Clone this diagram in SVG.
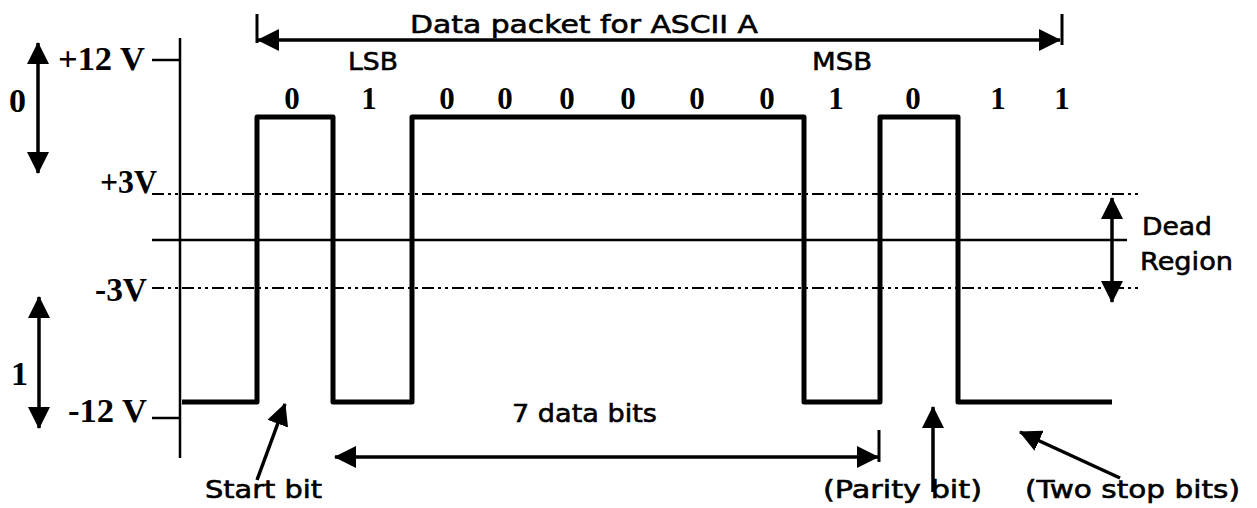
<svg xmlns="http://www.w3.org/2000/svg" width="1257" height="508" viewBox="0 0 1257 508">
<defs>
<marker id="ah" viewBox="0 0 22 22" refX="21" refY="11" markerWidth="22" markerHeight="22" markerUnits="userSpaceOnUse" orient="auto-start-reverse">
<path d="M0,0 L22,11 L0,22 Z" fill="#000"/>
</marker>
</defs>
<style>
.serif{font-family:"Liberation Serif","Times New Roman",serif;font-weight:bold;font-size:34px;fill:#000}
.bit{font-family:"Liberation Serif","Times New Roman",serif;font-weight:bold;font-size:31px;fill:#000}
.sans{font-family:"DejaVu Sans",Verdana,sans-serif;font-size:25px;fill:#000;stroke:#000;stroke-width:0.6}
.dd{stroke:#000;stroke-width:2.2;stroke-dasharray:12 4 3 4 3 4;fill:none}
.ln{stroke:#000;fill:none}
.arr{stroke:#000;stroke-width:3.5;fill:none}
</style>
<rect width="1257" height="508" fill="#fff"/>

<g id="axis">
<line class="ln" x1="180" y1="38" x2="180" y2="458" stroke-width="2.5"/>
<line class="ln" x1="152" y1="60" x2="180" y2="60" stroke-width="2.5"/>
<line class="ln" x1="152" y1="418" x2="180" y2="418" stroke-width="2.5"/>
<text class="serif" x="58" y="70" textLength="87" lengthAdjust="spacingAndGlyphs">+12 V</text>
<text class="serif" x="68" y="422" textLength="79" lengthAdjust="spacingAndGlyphs">-12 V</text>
<text class="serif" x="100" y="193" textLength="57" lengthAdjust="spacingAndGlyphs">+3V</text>
<text class="serif" x="95" y="301" textLength="52" lengthAdjust="spacingAndGlyphs">-3V</text>
</g>

<g id="levels">
<line class="dd" x1="152" y1="194" x2="1140" y2="194"/>
<line class="dd" x1="152" y1="288" x2="1140" y2="288"/>
<line class="ln" x1="152" y1="240" x2="1127" y2="240" stroke-width="2.5"/>
</g>

<g id="waveform">
<polyline class="ln" stroke-width="5" stroke-linejoin="round" points="182,402 257,402 257,117 333,117 333,402 412,402 412,117 804,117 804,402 880,402 880,117 958,117 958,402 1112,402"/>
</g>

<g id="bits">
<text class="bit" x="292" y="109" text-anchor="middle">0</text>
<text class="bit" x="369" y="109" text-anchor="middle">1</text>
<text class="bit" x="447" y="109" text-anchor="middle">0</text>
<text class="bit" x="505" y="109" text-anchor="middle">0</text>
<text class="bit" x="567" y="109" text-anchor="middle">0</text>
<text class="bit" x="628" y="109" text-anchor="middle">0</text>
<text class="bit" x="697" y="109" text-anchor="middle">0</text>
<text class="bit" x="767" y="109" text-anchor="middle">0</text>
<text class="bit" x="836" y="109" text-anchor="middle">1</text>
<text class="bit" x="913" y="109" text-anchor="middle">0</text>
<text class="bit" x="998" y="109" text-anchor="middle">1</text>
<text class="bit" x="1062" y="109" text-anchor="middle">1</text>
<text class="sans" x="348" y="70" textLength="50" lengthAdjust="spacingAndGlyphs">LSB</text>
<text class="sans" x="812" y="70" textLength="60" lengthAdjust="spacingAndGlyphs">MSB</text>
</g>

<g id="packet">
<line class="ln" x1="257" y1="14" x2="257" y2="43" stroke-width="3"/>
<line class="ln" x1="1062" y1="14" x2="1062" y2="45" stroke-width="3"/>
<text class="sans" x="410" y="33" textLength="348" lengthAdjust="spacingAndGlyphs">Data packet for ASCII A</text>
</g>

<g id="logic0">
<text class="serif" x="9" y="112">0</text>
</g>
<g id="logic1">
<text class="serif" x="11" y="385">1</text>
</g>
<g id="dead">
<text class="sans" x="1142" y="235" textLength="70" lengthAdjust="spacingAndGlyphs">Dead</text>
<text class="sans" x="1140" y="270" textLength="93" lengthAdjust="spacingAndGlyphs">Region</text>
</g>
<g id="databits">
<text class="sans" x="512" y="422" textLength="145" lengthAdjust="spacingAndGlyphs">7 data bits</text>
<line class="ln" x1="879" y1="430" x2="879" y2="462" stroke-width="3"/>
</g>
<g id="startbit">
<text class="sans" x="205" y="498" textLength="117" lengthAdjust="spacingAndGlyphs">Start bit</text>
</g>
<g id="paritybit">
<text class="sans" x="823" y="498" textLength="159" lengthAdjust="spacingAndGlyphs">(Parity bit)</text>
</g>
<g id="stopbits">
<text class="sans" x="1025" y="498" textLength="215" lengthAdjust="spacingAndGlyphs">(Two stop bits)</text>
</g>

<g id="connectors">
<line class="arr" x1="258" y1="40" x2="1060" y2="40" marker-start="url(#ah)" marker-end="url(#ah)"/>
<line class="arr" x1="38" y1="43" x2="38" y2="173" marker-start="url(#ah)" marker-end="url(#ah)"/>
<line class="arr" x1="39" y1="297" x2="39" y2="428" marker-start="url(#ah)" marker-end="url(#ah)"/>
<line class="arr" x1="1112" y1="198" x2="1112" y2="302" marker-start="url(#ah)" marker-end="url(#ah)"/>
<line class="arr" x1="335" y1="457" x2="878" y2="457" marker-start="url(#ah)" marker-end="url(#ah)"/>
<line class="arr" x1="257" y1="480" x2="285" y2="404" marker-end="url(#ah)"/>
<line class="arr" x1="933" y1="492" x2="933" y2="407" marker-end="url(#ah)"/>
<line class="arr" x1="1120" y1="478" x2="1020" y2="432" marker-end="url(#ah)"/>
</g>
</svg>
